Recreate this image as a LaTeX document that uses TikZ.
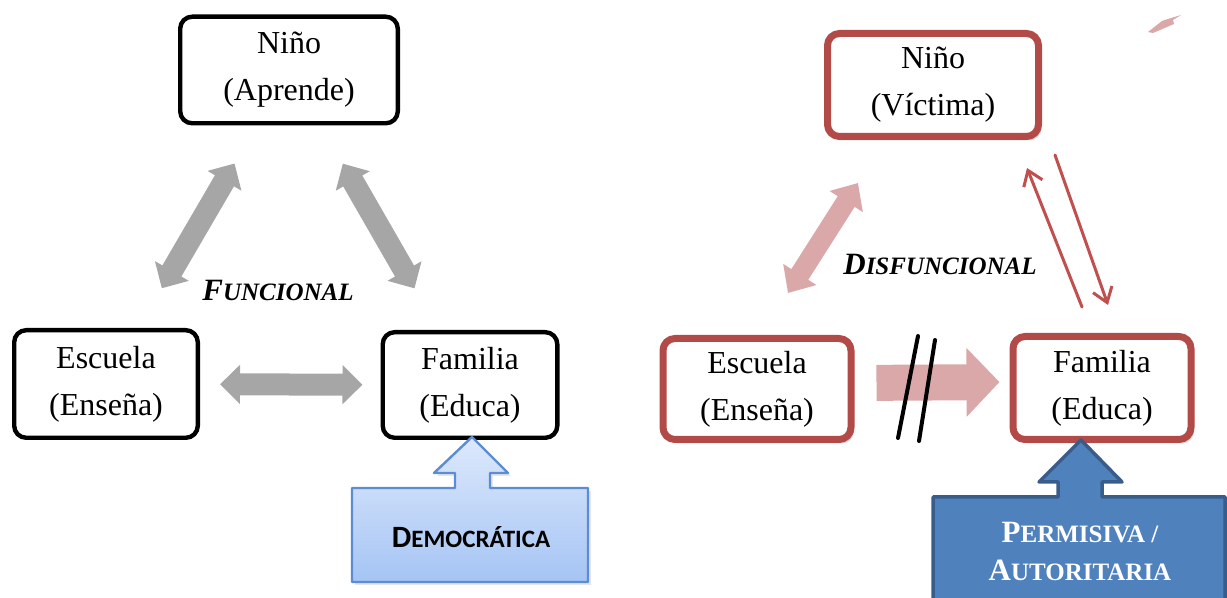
\documentclass[tikz,border=0pt]{standalone}
\usepackage{fontspec}
\setmainfont{Liberation Serif}
\newfontfamily\calibri{Carlito}
\usetikzlibrary{arrows.meta,shadows}

\definecolor{rojo}{RGB}{178,74,72}
\definecolor{rojoflecha}{RGB}{192,80,77}
\definecolor{gris}{RGB}{166,166,166}
\definecolor{rosa}{RGB}{218,168,168}
\definecolor{azul}{RGB}{79,129,189}
\definecolor{azulborde}{RGB}{56,93,138}
\definecolor{celestearriba}{RGB}{221,233,252}
\definecolor{celesteabajo}{RGB}{165,196,244}
\definecolor{celesteborde}{RGB}{92,140,210}

\begin{document}
\begin{tikzpicture}[line cap=round,line join=round,x=0.5pt,y=-0.5pt,
	caja/.style={draw=black,line width=2.2pt,rounded corners=6pt,fill=white,inner sep=0pt,
		align=center,font=\fontsize{16}{23.5}\selectfont},
	cajaroja/.style={caja,draw=rojo,line width=3.5pt,
		drop shadow={opacity=0.3,shadow xshift=1.5pt,shadow yshift=-2pt}},
	flechagris/.style={draw=gris,line width=11pt,line cap=butt,
		{Triangle[length=10pt,width=19pt]}-{Triangle[length=10pt,width=19pt]}},
	flecharosa/.style={draw=rosa,line width=10pt,line cap=butt,
		{Triangle[length=11pt,width=19pt]}-{Triangle[length=11pt,width=19pt]}},
	flechafina/.style={draw=rojoflecha,line width=1.5pt,-{Straight Barb[length=7pt,width=10pt]}},
	titulo/.style={font=\bfseries\itshape\fontsize{12.5}{14}\selectfont},
	grande/.style={font=\fontsize{15}{14}\selectfont}]
	\useasboundingbox (0,0) rectangle (1227,598);

	% funcional
	\node[caja,minimum width=108.8pt,minimum height=53.3pt] (nino) at (289,70) {Niño\\(Aprende)};
	\node[caja,minimum width=91.8pt,minimum height=53.8pt] (esc) at (106,384) {Escuela\\(Enseña)};
	\node[caja,minimum width=87.3pt,minimum height=52.8pt] (fam) at (470,385) {Familia\\(Educa)};
	\draw[flechagris,shorten <=23pt,shorten >=22pt] (esc) -- (nino);
	\draw[flechagris,shorten <=24pt,shorten >=22pt] (fam) -- (nino);
	\draw[flechagris,shorten <=10pt,shorten >=9pt] (esc) -- (fam);
	\node[titulo] (func) at (278,290) {{\fontsize{15.5}{14}\selectfont F}UNCIONAL};

	\draw[draw=celesteborde,line width=1.2pt,top color=celestearriba,bottom color=celesteabajo,
		drop shadow={opacity=0.2,shadow xshift=1.5pt,shadow yshift=-1.5pt}]
		(352,488) -- (455,488) -- (455,473) -- (434,473) -- (472,437) -- (508,473)
		-- (490,473) -- (490,488) -- (588,488) -- (588,582) -- (352,582) -- cycle;
	\node[font=\calibri\bfseries\fontsize{12.5}{14}\selectfont] (demo) at (471,537)
		{{\fontsize{15.5}{14}\selectfont D}EMOCRÁTICA};

	% disfuncional
	\node[cajaroja,minimum width=105.5pt,minimum height=51.5pt] (nino2) at (933,85) {Niño\\(Víctima)};
	\node[cajaroja,minimum width=94pt,minimum height=50.5pt] (esc2) at (757,389) {Escuela\\(Enseña)};
	\node[cajaroja,minimum width=89pt,minimum height=51.5pt] (fam2) at (1102,388) {Familia\\(Educa)};
	\draw[flecharosa] ([shift={(31,-42)}]esc2.north) -- ([shift={(-75,43)}]nino2.south);
	\draw[draw=rosa,line width=18pt,line cap=butt,-{Triangle[length=16.5pt,width=33.5pt]},
		shorten <=11pt,shorten >=5pt] ([yshift=3pt]esc2.east) -- ([yshift=3pt]fam2.west);
	\draw[line width=2pt] (918,336) -- (898,438);
	\draw[line width=2pt] (935,340) -- (919,441);
	\draw[flechafina] ([shift={(-20,-26)}]fam2.north) -- ([shift={(94,28)}]nino2.south);
	\draw[flechafina] ([shift={(122,15)}]nino2.south) -- ([shift={(6,-28)}]fam2.north);
	\node[titulo] (disf) at (940,264) {{\fontsize{15.5}{14}\selectfont D}ISFUNCIONAL};
	\fill[rosa] (1148,32) -- (1162,21) -- (1168,19) -- (1181,15) -- (1173,20) -- (1174,24) -- (1153,33) -- cycle;

	\draw[draw=azulborde,line width=1.75pt,fill=azul]
		(933,497) -- (1058,497) -- (1058,482) -- (1039,482) -- (1081,440) -- (1122,482)
		-- (1102,482) -- (1102,497) -- (1225,497) -- (1225,620) -- (933,620) -- cycle;
	\node[text=white,align=center,font=\bfseries\fontsize{12.5}{19}\selectfont] (perm) at (1080,551)
		{{\fontsize{15.5}{19}\selectfont P}ERMISIVA /\\{\fontsize{15.5}{19}\selectfont A}UTORITARIA};
\end{tikzpicture}
\end{document}
